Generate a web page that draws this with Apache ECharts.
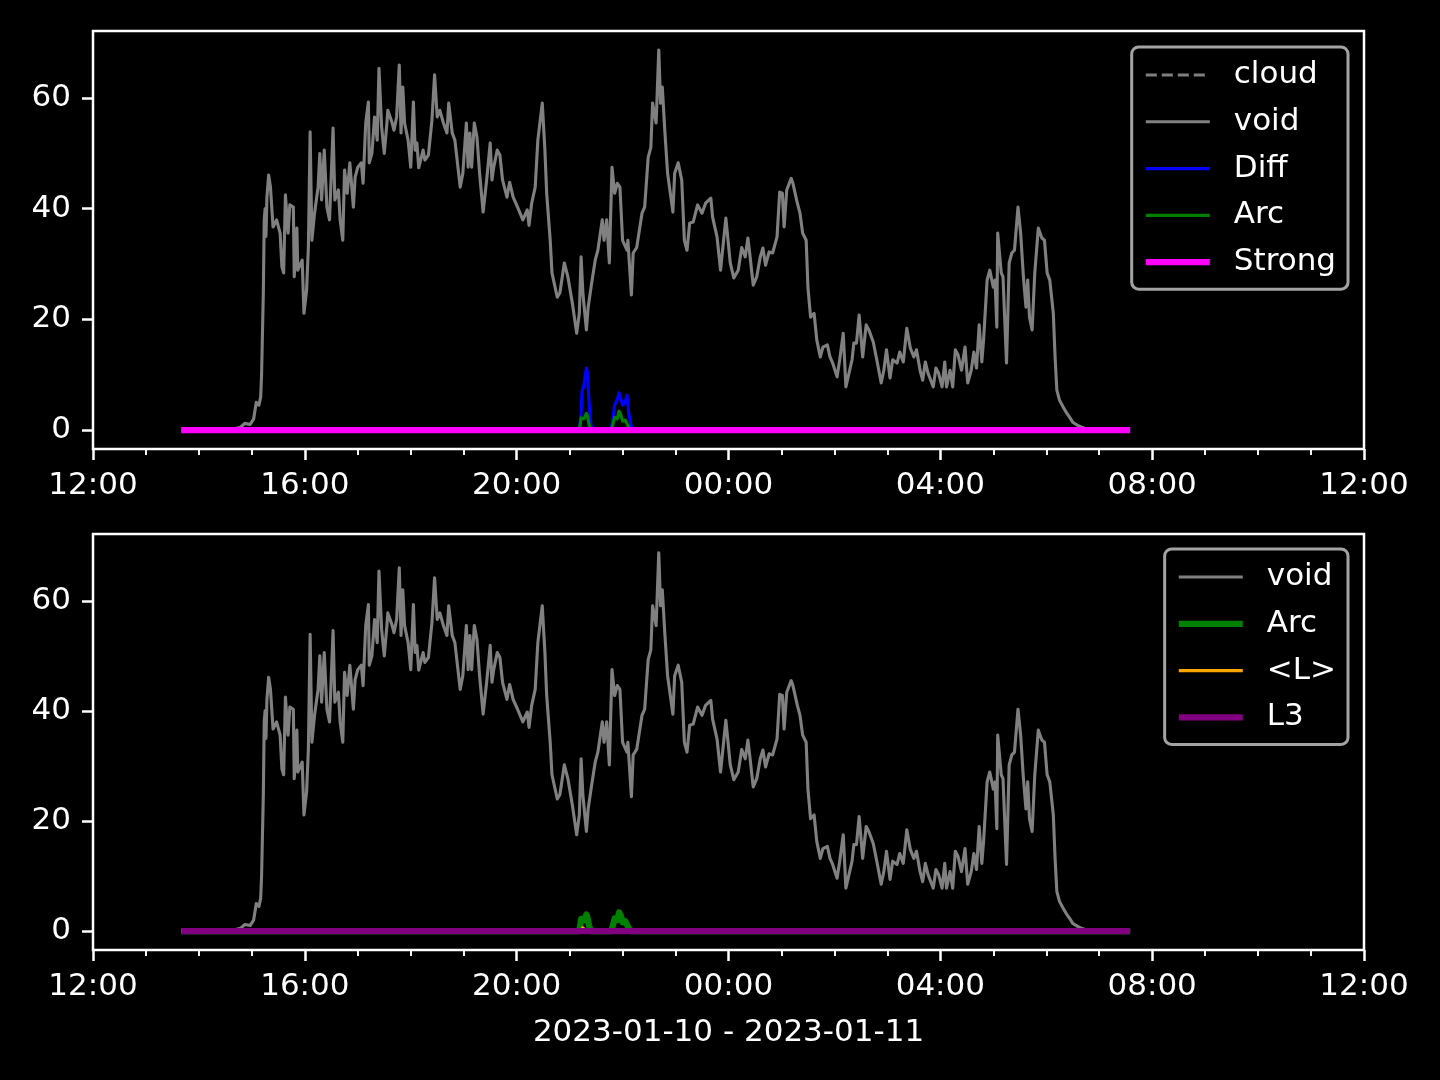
<!DOCTYPE html>
<html>
<head>
<meta charset="utf-8">
<script src="https://cdn.jsdelivr.net/npm/echarts@6/dist/echarts.min.js"></script>
<style>
html,body{margin:0;padding:0;background:#000;}
#chart{width:1440px;height:1080px;}
</style>
</head>
<body>
<div id="chart"></div>
<script>
// ---- data (time "HH:MM", 2023-01-10 12:00 .. 2023-01-11 12:00) ----
const xTickHours = [0, 4, 8, 12, 16, 20, 24];
const yTicks = [0, 20, 40, 60];
const xLabelText = "2023-01-10 - 2023-01-11";

const cloudData = [];

const voidData = [
["13:40",0],["14:01",0],["14:35",0],["14:47",0.5],["14:52",1.2],["14:58",1.0],["15:02",2.0],["15:05",5.0],["15:08",4.5],["15:10",6.0],["15:11",10],["15:13",25],["15:14",38],["15:15",40],["15:16",35],["15:17",42],["15:19",46.1],["15:21",44],["15:24",36.7],["15:28",38],["15:32",35.6],["15:34",29.5],["15:36",28.4],["15:38",42.5],["15:41",35.6],["15:43",40.7],["15:47",40.3],["15:48",27.7],["15:51",36.5],["15:52",28.9],["15:57",30.7],["15:59",21.1],
["16:02",25.3],["16:04",33],["16:06",53.9],["16:08",34.3],["16:11",39.2],["16:15",43.9],["16:17",50],["16:19",41.6],["16:22",50.6],["16:25",40.3],["16:28",38],["16:32",54.6],["16:34",41.6],["16:38",43.4],["16:40",38],["16:43",34.3],["16:45",47],["16:48",42.8],["16:51",48.3],["16:55",40.3],["16:57",45.7],
["17:00",47.5],["17:04",48.3],["17:06",44.6],["17:09",55.5],["17:12",59.3],["17:13",48.3],["17:16",50],["17:19",56.6],["17:22",52.4],["17:24",65.4],["17:27",54.8],["17:30",50],["17:33",55.5],["17:34",57.8],["17:39",55.5],["17:41",54.2],["17:44",56.6],["17:47",66],["17:49",53.7],["17:51",62],["17:53",55.5],["17:57",52.4],
["18:00",47.5],["18:03",59.3],["18:05",50.6],["18:07",51.9],["18:09",47.4],["18:14",50.6],["18:16",48.8],["18:20",49.7],["18:24",56],["18:27",64.2],["18:30",56.6],["18:33",57.8],["18:37",55.5],["18:41",53.7],["18:43",59.1],["18:47",53.7],["18:50",52.4],["18:56",43.9],["18:59",46.4],
["19:03",55.5],["19:05",47.5],["19:07",53.7],["19:09",47.5],["19:12",55.5],["19:15",53],["19:18",46.4],["19:22",39.4],["19:26",45.2],["19:30",51.9],["19:32",45.2],["19:34",47.5],["19:38",50.6],["19:41",49.7],["19:44",45.2],["19:49",42.1],["19:52",44.8],["19:56",42.1],
["20:01",40.3],["20:07",38],["20:12",39.8],["20:14",37],["20:17",41],["20:21",43.9],["20:24",52.4],["20:29",59.1],["20:32",50.6],["20:34",42.8],["20:38",34.3],["20:40",28.4],["20:46",24],["20:49",24.8],["20:54",30.2],["20:58",27.7],
["21:03",23],["21:08",17.5],["21:11",21.1],["21:13",31.3],["21:15",24.8],["21:19",18.1],["21:21",22.2],["21:25",26.6],["21:29",30.7],["21:32",32.5],["21:37",38],["21:39",34.3],["21:42",38],["21:45",30.2],["21:48",47.5],["21:51",42.8],["21:54",44.6],["21:57",43.9],
["22:00",34.3],["22:05",32.5],["22:06",34.3],["22:10",24.4],["22:12",32],["22:16",33],["22:22",39.2],["22:25",40.3],["22:29",49.3],["22:32",51.1],["22:34",59.1],["22:38",55.5],["22:41",68.7],["22:43",59.1],["22:45",62],["22:48",53.7],["22:51",46.4],["22:57",39.4],["22:59",46.4],
["23:03",48.3],["23:07",45.2],["23:10",34.3],["23:13",32.5],["23:16",37.4],["23:20",37.6],["23:25",40.7],["23:30",39.2],["23:34",41],["23:40",41.9],["23:42",38.5],["23:47",34.9],["23:51",28.9],["23:57",38.3],
["00:02",30.2],["00:06",27.5],["00:11",28.9],["00:15",33],["00:19",31.3],["00:22",34.7],["00:24",32],["00:28",26.2],["00:32",27.7],["00:36",31.3],["00:39",32.9],["00:42",29.8],["00:46",32.2],["00:50",32],["00:55",34.9],["00:58",43],
["01:01",42.8],["01:03",36.7],["01:06",43.4],["01:11",45.5],["01:13",44.6],["01:18",41],["01:21",39.2],["01:24",35.6],["01:28",34.3],["01:30",25.8],["01:33",20.4],["01:37",21.1],["01:40",16.3],["01:44",13.2],["01:47",15],["01:52",15.4],["01:55",13.2],["01:58",12.1],
["02:03",9.6],["02:06",12.7],["02:10",17.5],["02:13",7.8],["02:15",7.6],["02:20",12.7],["02:22",15.7],["02:25",15.7],["02:28",20.8],["02:32",13.2],["02:36",19],["02:39",18.1],["02:44",15.9],["02:48",12.7],["02:53",8.5],["02:56",10.8],["02:59",14.5],
["03:03",9.4],["03:06",12.7],["03:11",12.1],["03:14",14.1],["03:18",12.3],["03:22",18.4],["03:26",14.8],["03:30",13.2],["03:33",14.5],["03:37",10.8],["03:40",9],["03:43",12.3],["03:46",10.3],["03:52",7.8],["03:55",11.2],["03:58",10.3],
["04:02",7.8],["04:05",12.3],["04:07",7.8],["04:11",10.8],["04:14",7.8],["04:17",14.5],["04:20",13.6],["04:24",10.8],["04:28",15],["04:31",8.5],["04:35",10.8],["04:38",14.1],["04:41",11.2],["04:44",19],["04:47",12.3],["04:49",16.3],["04:53",27.1],["04:56",28.9],
["05:00",25.8],["05:02",27.1],["05:04",18.6],["05:05",35.6],["05:09",28.4],["05:11",27.7],["05:15",12.1],["05:18",30.2],["05:21",32],["05:24",32.5],["05:28",40.3],["05:31",35.6],["05:34",28],["05:37",22.2],["05:39",27.1],["05:41",20.4],["05:44",18.1],["05:47",28.4],["05:51",36.5],["05:55",34.7],["05:58",34.3],
["06:01",28.4],["06:04",27.1],["06:08",21.1],["06:10",13.2],["06:12",7.2],["06:15",5.4],["06:19",4.2],["06:23",3.1],["06:27",2.2],["06:30",1.4],["06:35",0.9],["06:40",0.5],["06:49",0],["07:35",0]
];

const diffData = [
["13:40",0],["21:11",0],["21:13",3],["21:14",6.9],["21:16",8],["21:19",11.2],["21:20",10.5],["21:22",5],["21:24",1],["21:26",0],
["21:47",0],["21:49",2],["21:51",4.5],["21:54",5.5],["21:56",6.7],["21:58",6.5],["22:00",4.5],["22:03",5],["22:05",6.3],["22:07",3],["22:10",0.5],["22:12",0],["22:14",0.3],["22:16",0],
["22:45",0],["22:47",0.3],["22:49",0],["07:35",0]
];

const arcData = [
["13:40",0],["21:11",0],["21:13",2.2],["21:14",2.4],["21:16",2.0],["21:19",3.0],["21:20",2.6],["21:22",1.0],["21:24",0],
["21:47",0],["21:49",1.0],["21:51",2.3],["21:54",2.0],["21:56",3.4],["21:58",2.8],["22:00",1.6],["22:03",1.8],["22:05",1.8],["22:07",0.5],["22:10",0],["07:35",0]
];

const lMeanData = [
["13:40",0],["21:12",0],["21:15",0.6],["21:17",0.8],["21:19",0],["07:35",0]
];

const strongData = [["13:40",0],["07:35",0]];
const l3Data = [["13:40",0],["07:35",0]];

// ---- helpers ----
function toHours(t){
  const p = t.split(":"); const h = +p[0] + (+p[1])/60;
  return h >= 12 ? h - 12 : h + 12;   // hours since 2023-01-10 12:00
}
function conv(arr){ return arr.map(d => [toHours(d[0]), d[1]]); }
function fmtHour(v){ const h = (12 + v) % 24; return (h < 10 ? "0" : "") + h + ":00"; }

const vmax = Math.max(...voidData.map(d => d[1]));
const pad = 0.05 * vmax;
const yMin = -pad, yMax = vmax + pad;

const FONT = "DejaVu Sans";
const FS = 31;
const THIN = 3.1, THICK = 6.25;

function xAxisDef(idx, withName){
  const a = {
    type: "value", gridIndex: idx, min: 0, max: 24, interval: 4,
    axisLine: {show: false, onZero: false},
    axisTick: {show: true, length: 11, lineStyle: {color: "#fff", width: 2.5}},
    minorTick: {show: true, splitNumber: 4, length: 6, lineStyle: {color: "#fff", width: 1.9}},
    splitLine: {show: false}, minorSplitLine: {show: false},
    axisLabel: {color: "#fff", fontFamily: FONT, fontSize: FS, margin: 21, formatter: fmtHour}
  };
  if (withName){
    a.name = xLabelText; a.nameLocation = "middle"; a.nameGap = 67; a.nameMoveOverlap = false;
    a.nameTextStyle = {color: "#fff", fontFamily: FONT, fontSize: FS};
  }
  return a;
}
function yAxisDef(idx){
  return {
    type: "value", gridIndex: idx, min: yMin, max: yMax,
    axisLine: {show: false, onZero: false},
    axisTick: {show: true, length: 11, lineStyle: {color: "#fff", width: 2.5}, customValues: yTicks},
    splitLine: {show: false},
    axisLabel: {color: "#fff", fontFamily: FONT, fontSize: FS, margin: 22, padding: [4, 0, 0, 0], customValues: yTicks}
  };
}
function line(name, data, color, width, gi, extra){
  return Object.assign({
    name: name, type: "line", xAxisIndex: gi, yAxisIndex: gi, data: conv(data),
    symbol: "none", showSymbol: false, silent: true, animation: false,
    itemStyle: {color: color},
    lineStyle: {color: color, width: width, join: "round", cap: "butt"}
  }, extra || {});
}
const HIDE = {opacity: 0};
const legendCommon = {
  orient: "vertical", selectedMode: false, itemWidth: 64, itemHeight: 14, itemGap: 10.8,
  padding: [10, 12, 9, 11],
  itemStyle: HIDE,
  backgroundColor: "rgba(0,0,0,0.8)", borderColor: "#a3a3a3", borderWidth: 3, borderRadius: 7,
  textStyle: {color: "#fff", fontFamily: FONT, fontSize: FS, lineHeight: 36, padding: [0, 0, 0, 19]}
};

const option = {
  backgroundColor: "#000",
  animation: false,
  grid: [
    {left: 93, top: 31, width: 1271, height: 418, show: true, borderColor: "#fff", borderWidth: 2.5, backgroundColor: "#000"},
    {left: 93, top: 534, width: 1271, height: 416, show: true, borderColor: "#fff", borderWidth: 2.5, backgroundColor: "#000"}
  ],
  xAxis: [xAxisDef(0, false), xAxisDef(1, true)],
  yAxis: [yAxisDef(0), yAxisDef(1)],
  legend: [
    Object.assign({}, legendCommon, {right: 92, top: 47, data: [
      {name: "cloud", itemStyle: HIDE, lineStyle: {type: [11, 5], width: THIN, color: "#808080"}},
      {name: "void", itemStyle: HIDE, lineStyle: {width: THIN}},
      {name: "Diff", itemStyle: HIDE, lineStyle: {width: THIN}},
      {name: "Arc", itemStyle: HIDE, lineStyle: {width: THIN}},
      {name: "Strong", itemStyle: HIDE, lineStyle: {width: THICK}}
    ]}),
    Object.assign({}, legendCommon, {right: 92, top: 549, data: [
      {name: "void", itemStyle: HIDE, lineStyle: {width: THIN}},
      {name: "Arc", itemStyle: HIDE, lineStyle: {width: THICK}},
      {name: "<L>", itemStyle: HIDE, lineStyle: {width: THIN}},
      {name: "L3", itemStyle: HIDE, lineStyle: {width: THICK}}
    ]})
  ],
  series: [
    line("cloud", cloudData, "#808080", THIN, 0, {lineStyle: {color: "#808080", width: THIN, type: [11, 5]}}),
    line("void", voidData, "#808080", THIN, 0),
    line("Diff", diffData, "#0000ff", THIN, 0),
    line("Arc", arcData, "#008000", THIN, 0),
    line("Strong", strongData, "#ff00ff", THICK, 0),
    line("void", voidData, "#808080", THIN, 1),
    line("Arc", arcData, "#008000", THICK, 1),
    line("<L>", lMeanData, "#ffa500", THIN, 1),
    line("L3", l3Data, "#800080", THICK, 1)
  ]
};

const chart = echarts.init(document.getElementById("chart"), null, {renderer: "canvas"});
chart.setOption(option);
</script>
</body>
</html>
